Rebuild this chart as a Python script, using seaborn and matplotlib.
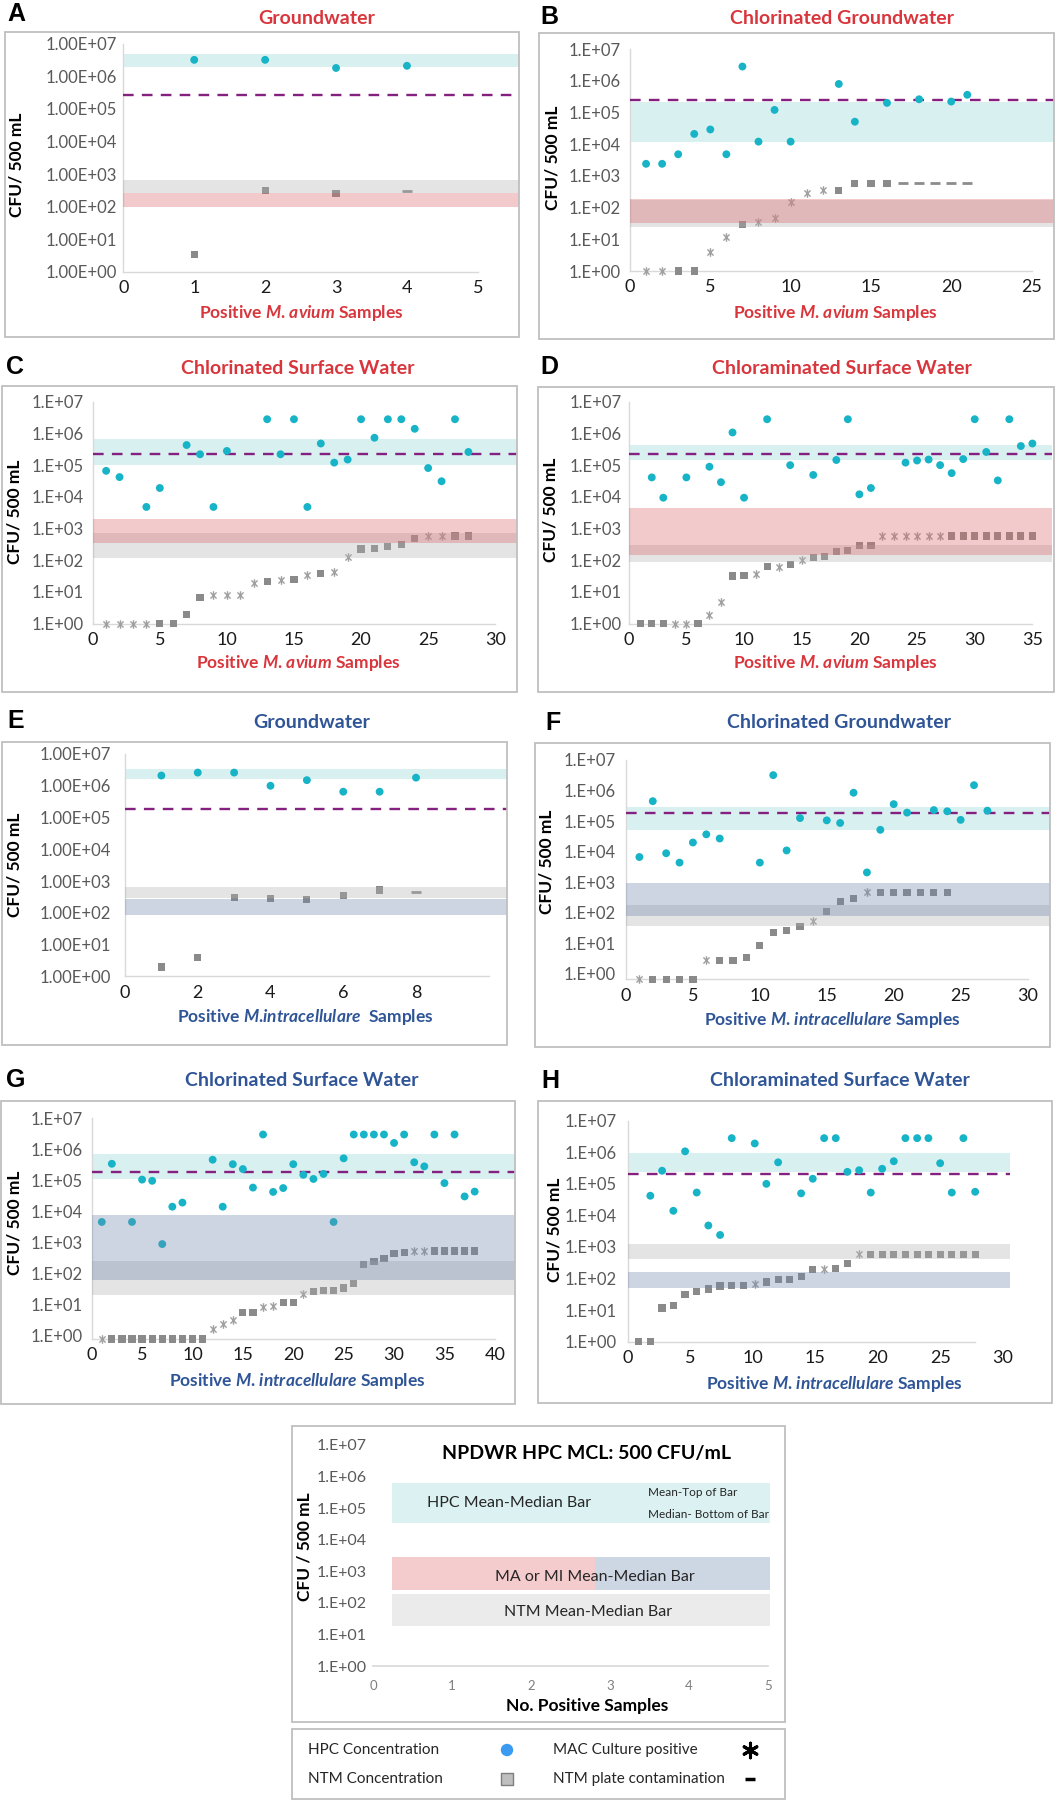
import numpy as np
import pandas as pd
import matplotlib
matplotlib.use("Agg")
import matplotlib.pyplot as plt
import seaborn as sns
from matplotlib.path import Path
from matplotlib.patches import Rectangle
from matplotlib.ticker import NullLocator

sns.set_theme(style="white")
plt.rcParams["font.family"] = ["Lato", "DejaVu Sans"]
plt.rcParams["mathtext.fontset"] = "custom"
plt.rcParams["mathtext.it"] = "Lato:italic:bold"
plt.rcParams["mathtext.rm"] = "Lato:bold"

W, H = 1063, 1800
nan = np.nan

# ---- data, CFU / 500 mL (NaN = no HPC value for that sample)
# NTM kinds: s = NTM count, x = MAC culture positive, - = NTM plate contamination
A_hpc = [3.2e6, 3.2e6, 1.8e6, 2.1e6]
A_ntm = [3.4, 310, 257, 310]
A_kind = "sss-"
A_bands = [(1.9e6, 4.8e6), (100, 257), (257, 660)]   # HPC, M. avium, NTM
A_mcl = 2.6e5

B_hpc = [2.4e3, 2.4e3, 4.8e3, 2.1e4, 2.9e4, 4.8e3, 2.8e6, 1.2e4, 1.2e5, 1.2e4,
         nan, nan, 7.9e5, 5.1e4, nan, 2.0e5, nan, 2.6e5, nan, 2.2e5, 3.6e5]
B_ntm = [1, 1, 1, 1, 3.9, 11.7, 30, 36, 48, 148, 280, 350, 350, 580, 580, 580,
         580, 580, 580, 580, 580]
B_kind = "xxssxxsxxxxxssss-----"
B_bands = [(1.2e4, 2.2e5), (33, 190), (25, 175)]
B_mcl = 2.4e5

C_hpc = [6.6e4, 4.2e4, nan, 4.8e3, 1.9e4, nan, 4.3e5, 2.2e5, 4.8e3, 2.8e5,
         nan, nan, 2.8e6, 2.2e5, 2.8e6, 4.8e3, 4.8e5, 1.2e5, 1.5e5, 2.8e6,
         7.3e5, 2.8e6, 2.8e6, 1.4e6, 8.1e4, 3.1e4, 2.8e6, 2.6e5]
C_ntm = [1, 1, 1, 1, 1, 1, 1.95, 6.7, 8, 8, 8, 19.5, 21, 24, 25, 34, 38, 43,
         123, 225, 240, 267, 316, 490, 580, 580, 580, 580]
C_kind = "xxxxssssxxxxsxsxsxxsssssxxss"
C_bands = [(1e5, 6.6e5), (340, 2000), (115, 740)]
C_mcl = 2.3e5

D_hpc = [nan, 4.1e4, 9.4e3, nan, 4.1e4, nan, 8.9e4, 2.9e4, 1.07e6, 9.4e3,
         nan, 2.8e6, nan, 1.0e5, nan, 4.9e4, nan, 1.45e5, 2.8e6, 1.2e4,
         1.9e4, nan, nan, 1.2e5, 1.4e5, 1.5e5, 1.0e5, 5.6e4, 1.55e5, 2.8e6,
         2.6e5, 3.3e4, 2.8e6, 4.0e5, 4.8e5]
D_ntm = [1, 1, 1, 1, 1, 1, 1.95, 4.9, 32, 34, 37, 62, 62, 75, 101, 120, 132,
         190, 200, 290, 290, 580, 580, 580, 580, 580, 580, 580, 580, 580, 580,
         580, 580, 580, 580]
D_kind = "sssxxsxxssxsxsxssssssxxxxxxssssssss"
D_bands = [(1.4e5, 4.3e5), (145, 4600), (89, 300)]
D_mcl = 2.3e5

E_hpc = [2.1e6, 2.6e6, 2.6e6, 1.0e6, 1.5e6, 6.5e5, 6.5e5, 1.8e6]
E_ntm = [1.96, 4.0, 295, 282, 265, 345, 525, 445]
E_kind = "sssssss-"
E_bands = [(1.6e6, 3.4e6), (83, 275), (300, 630)]   # HPC, M. intracellulare, NTM
E_mcl = 1.8e5

F_hpc = [6.7e3, 4.5e5, 8.9e3, 4.4e3, 2.0e4, 3.7e4, 2.7e4, nan, nan, 4.4e3,
         3.2e6, 1.1e4, 1.26e5, nan, 1.06e5, 8.7e4, 8.5e5, 2.1e3, 5.2e4, 3.6e5,
         1.9e5, nan, 2.3e5, 2.1e5, 1.1e5, 1.5e6, 2.2e5]
F_ntm = [0.67, 0.67, 0.67, 0.67, 0.67, 2.9, 2.8, 2.8, 3.5, 8.5, 23, 27, 35, 56,
         112, 233, 290, 490, 470, 470, 470, 470, 470, 470]
F_kind = "xssssxsssssssxsssxssssss"
F_bands = [(5.3e4, 2.8e5), (81, 950), (37, 180)]
F_mcl = 1.8e5

G_hpc = [4.5e3, 3.4e5, nan, 4.5e3, 1.05e5, 9.6e4, 870, 1.4e4, 1.9e4, nan,
         nan, 4.6e5, 1.4e4, 3.3e5, 2.3e5, 5.8e4, 3.0e6, 4.2e4, 5.6e4, 3.3e5,
         1.5e5, 1.1e5, 1.6e5, 4.5e3, 5.1e5, 3.0e6, 3.0e6, 3.0e6, 3.0e6, 1.6e6,
         3.0e6, 3.8e5, 2.8e5, 3.0e6, 8.1e4, 3.0e6, 3.0e4, 4.3e4]
G_ntm = [0.75, 0.75, 0.75, 0.75, 0.75, 0.75, 0.75, 0.75, 0.75, 0.75, 0.75,
         1.6, 2.3, 3.1, 5.5, 5.5, 8.1, 8.9, 11.2, 11.2, 21, 25, 27, 28, 33, 46,
         194, 236, 290, 430, 470, 520, 520, 520, 520, 520, 520, 520]
G_kind = "xssssssssssxxxssxxssxssssssssssxxsssss"
G_bands = [(1.1e5, 7.1e5), (60, 7800), (19.5, 250)]
G_mcl = 1.9e5

H_pos = [0.88, 1.81, 2.75, 3.65, 4.59, 5.52, 6.45, 7.39, 8.32, 9.25, 10.16,
         11.09, 12.03, 12.96, 13.87, 14.80, 15.71, 16.64, 17.57, 18.51, 19.44,
         20.35, 21.28, 22.21, 23.15, 24.05, 24.99, 25.92, 26.85, 27.79]
H_hpc = [nan, 4.2e4, 2.6e5, 1.4e4, 1.07e6, 5.3e4, 4.8e3, 2.4e3, 2.8e6, nan,
         1.9e6, 1.0e5, 4.8e5, nan, 5.0e4, 1.45e5, 2.8e6, 2.8e6, 2.4e5, 2.7e5,
         5.3e4, 3.0e5, 5.2e5, 2.8e6, 2.8e6, 2.8e6, 4.5e5, 5.3e4, 2.8e6, 5.6e4]
H_ntm = [1, 1, 11.7, 13.8, 32, 40, 47, 58, 62, 62, 69, 78, 94, 96, 117, 195,
         205, 210, 295, 590, 590, 590, 590, 590, 590, 590, 590, 590, 590, 590]
H_kind = "ssssssssssxsssssxssxssssssssss"
H_bands = [(2.4e5, 9.4e5), (51, 160), (415, 1200)]
H_mcl = 2.1e5

# key panel (schematic bars)
key_hpc_band = [10 ** 4.53, 10 ** 5.8]
key_mami_band = [10 ** 2.41, 10 ** 3.46]
key_ntm_band = [10 ** 1.27, 10 ** 2.28]

# ---- styles
HPC_C = "#17B3C6"
SQ_C = "#8A8A8A"
X_C = "#A0A0A0"
DASH_C = "#8C8C8C"
MCL_C = "#84207F"
RED = "#D8363C"
BLUE = "#2F5597"
BAND_HPC = "#92D4D7"
BAND_RED = "#DD686A"
BAND_BLUE = "#7087AC"
BAND_GRAY = "#B2B2B2"
FRAME_C = "#BFBFBF"
SPINE_C = "#D9D9D9"

star = Path([(0, -1), (0, 1), (-.72, -.72), (.72, .72), (-.72, .72), (.72, -.72)],
            [Path.MOVETO, Path.LINETO] * 3)

# period kept outside math mode: mathtext pads after punctuation
MA_LABEL = r"Positive $M$. $avium$ Samples"
MI_LABEL_E = r"Positive $M$.$intracellulare$  Samples"
MI_LABEL = r"Positive $M$. $intracellulare$ Samples"

fig = plt.figure(figsize=(W / 100, H / 100), dpi=100)


def px_axes(l, t, r, b):
    return fig.add_axes([l / W, 1 - b / H, (r - l) / W, (b - t) / H])


def px_text(x, y, s, **kw):
    return fig.text(x / W, 1 - y / H, s, **kw)


def frame(l, t, r, b):
    fig.add_artist(Rectangle((l / W, 1 - b / H), (r - l) / W, (b - t) / H,
                             transform=fig.transFigure, fill=False,
                             ec=FRAME_C, lw=1.3, zorder=10))


panels = [
    dict(letter="A", lxy=(7, 14), title="Groundwater", txy=(317, 18), col=RED,
         box=(123.3, 43.7, 519, 272), frame=(5, 32, 519, 337), xmax=5.58, ymin=1,
         xticks=range(0, 6), spine_end=5, fmt="1.00E+{:02d}", ypad=4.5,
         xlabel=MA_LABEL, xlxy=(301, 313), ylxy=(17, 165),
         hpc=A_hpc, ntm=A_ntm, kind=A_kind, bands=A_bands, mcl=A_mcl),
    dict(letter="B", lxy=(540, 17), title="Chlorinated Groundwater", txy=(842, 18), col=RED,
         box=(630, 49, 1054, 271), frame=(539, 33, 1054, 339), xmax=26.4, ymin=1,
         xticks=range(0, 26, 5), spine_end=25, fmt="1.E+{:02d}", ypad=6.5,
         xlabel=MA_LABEL, xlxy=(835, 313), ylxy=(553, 158),
         hpc=B_hpc, ntm=B_ntm, kind=B_kind, bands=B_bands, mcl=B_mcl),
    dict(letter="C", lxy=(6, 367), title="Chlorinated Surface Water", txy=(298, 368), col=RED,
         box=(92.7, 401.7, 516.7, 623.7), frame=(2, 386, 517, 692), xmax=31.6, ymin=1,
         xticks=range(0, 31, 5), spine_end=30, fmt="1.E+{:02d}", ypad=6.8,
         xlabel=MA_LABEL, xlxy=(298, 663), ylxy=(15, 512),
         hpc=C_hpc, ntm=C_ntm, kind=C_kind, bands=C_bands, mcl=C_mcl),
    dict(letter="D", lxy=(540, 367), title="Chloraminated Surface Water", txy=(842, 368), col=RED,
         box=(628.7, 401.7, 1052, 623.7), frame=(538, 387, 1054, 692), xmax=36.7, ymin=1,
         xticks=range(0, 36, 5), spine_end=35, fmt="1.E+{:02d}", ypad=5.3,
         xlabel=MA_LABEL, xlxy=(835, 663), ylxy=(551, 510),
         hpc=D_hpc, ntm=D_ntm, kind=D_kind, bands=D_bands, mcl=D_mcl),
    dict(letter="E", lxy=(7, 721), title="Groundwater", txy=(312, 722), col=BLUE,
         box=(125, 754, 507.3, 976.3), frame=(2, 742, 507, 1045), xmax=10.51, ymin=1,
         xticks=range(0, 9, 2), spine_end=10, fmt="1.00E+{:02d}", ypad=10,
         xlabel=MI_LABEL_E, xlxy=(305, 1017), ylxy=(15, 865),
         hpc=E_hpc, ntm=E_ntm, kind=E_kind, bands=E_bands, mcl=E_mcl),
    dict(letter="F", lxy=(545, 723), title="Chlorinated Groundwater", txy=(839, 722), col=BLUE,
         box=(626, 760, 1050.3, 979.3), frame=(535, 743, 1050, 1047), xmax=31.7, ymin=0.67,
         xticks=range(0, 31, 5), spine_end=30, fmt="1.E+{:02d}", ypad=7.7,
         xlabel=MI_LABEL, xlxy=(832, 1020), ylxy=(547, 862),
         hpc=F_hpc, ntm=F_ntm, kind=F_kind, bands=F_bands, mcl=F_mcl),
    dict(letter="G", lxy=(6, 1080), title="Chlorinated Surface Water", txy=(302, 1081), col=BLUE,
         box=(91.7, 1118.3, 515, 1339), frame=(1, 1101, 515, 1404), xmax=42.0, ymin=0.75,
         xticks=range(0, 41, 5), spine_end=40, fmt="1.E+{:02d}", ypad=6.5,
         xlabel=MI_LABEL, xlxy=(297, 1381), ylxy=(15, 1223),
         hpc=G_hpc, ntm=G_ntm, kind=G_kind, bands=G_bands, mcl=G_mcl),
    dict(letter="H", lxy=(541, 1081), title="Chloraminated Surface Water", txy=(840, 1081), col=BLUE,
         box=(627.7, 1120.7, 1010.3, 1341.7), frame=(538, 1101, 1052, 1403), xmax=30.6, ymin=1,
         xticks=range(0, 31, 5), spine_end=27.8, fmt="1.E+{:02d}", ypad=7.7,
         xlabel=MI_LABEL, xlxy=(834, 1384), ylxy=(554, 1230),
         hpc=H_hpc, ntm=H_ntm, kind=H_kind, bands=H_bands, mcl=H_mcl, pos=H_pos),
]


def draw_panel(p):
    ax = px_axes(*p["box"])
    ax.set_yscale("log")
    ax.patch.set_alpha(0)
    pos = p.get("pos", list(range(1, max(len(p["hpc"]), len(p["ntm"])) + 1)))

    hpc = pd.DataFrame({"x": pos[:len(p["hpc"])], "cfu": p["hpc"]}).dropna()
    sns.scatterplot(data=hpc, x="x", y="cfu", ax=ax, color=HPC_C, s=32,
                    edgecolor="none", zorder=4, clip_on=False, legend=False)

    ntm = pd.DataFrame({"x": pos[:len(p["ntm"])], "cfu": p["ntm"],
                        "kind": list(p["kind"])})
    sq = ntm[ntm["kind"] == "s"]
    cult = ntm[ntm["kind"] == "x"]
    cont = ntm[ntm["kind"] == "-"]
    if len(sq):
        sns.scatterplot(data=sq, x="x", y="cfu", ax=ax, marker="s", color=SQ_C,
                        s=27, edgecolor="none", zorder=4, clip_on=False, legend=False)
    if len(cult):
        sns.scatterplot(data=cult, x="x", y="cfu", ax=ax, marker=star, color=X_C,
                        edgecolor=X_C, s=38, linewidth=1.0, zorder=4,
                        clip_on=False, legend=False)
    if len(cont):
        sns.scatterplot(data=cont, x="x", y="cfu", ax=ax, marker="_", color=DASH_C,
                        s=60, linewidth=2.0, zorder=4, clip_on=False, legend=False)

    hpc_band, ma_band, ntm_band = p["bands"]
    ma_col = BAND_RED if p["col"] == RED else BAND_BLUE
    ax.axhspan(*hpc_band, color=BAND_HPC, alpha=0.35, lw=0, zorder=1)
    ax.axhspan(*ntm_band, color=BAND_GRAY, alpha=0.35, lw=0, zorder=5)
    ax.axhspan(*ma_band, color=ma_col, alpha=0.35, lw=0, zorder=6)
    ax.axhline(p["mcl"], color=MCL_C, lw=1.7, ls=(0, (4.5, 3.5)), zorder=3)

    ax.set_xlim(0, p["xmax"])
    ax.set_ylim(p["ymin"], 1e7)
    ax.set_xticks(list(p["xticks"]))
    ax.set_xticklabels([str(t) for t in p["xticks"]])
    ax.set_yticks(10.0 ** np.arange(8))
    ax.set_yticklabels([p["fmt"].format(k) for k in range(8)])
    ax.yaxis.set_minor_locator(NullLocator())
    ax.tick_params(length=0)
    ax.tick_params(axis="y", labelsize=12, labelcolor="#595959", pad=p["ypad"])
    ax.tick_params(axis="x", labelsize=13, labelcolor="#1A1A1A", pad=6)
    ax.set_xlabel("")
    ax.set_ylabel("")
    for side in ("top", "right"):
        ax.spines[side].set_visible(False)
    for side in ("left", "bottom"):
        ax.spines[side].set_color(SPINE_C)
        ax.spines[side].set_linewidth(1)
    ax.spines["bottom"].set_bounds(0, p["spine_end"])

    frame(*p["frame"])
    px_text(*p["lxy"], p["letter"], fontsize=18, fontweight="bold",
            family="Liberation Sans", color="black", ha="left", va="center")
    px_text(*p["txy"], p["title"], fontsize=14, fontweight="bold",
            color=p["col"], ha="center", va="center")
    px_text(*p["xlxy"], p["xlabel"], fontsize=12.5, fontweight="bold",
            color=p["col"], ha="center", va="center")
    px_text(*p["ylxy"], "CFU/ 500 mL", fontsize=12.5, fontweight="bold",
            color="black", ha="center", va="center", rotation=90)


for p in panels:
    draw_panel(p)

# ---- explanatory key panel
ax = px_axes(373, 1445, 772, 1666)
ax.set_yscale("log")
ax.patch.set_alpha(0)
ax.fill_between([0.24, 5.03], *key_hpc_band, color="#DBF1F2", lw=0)
ax.fill_between([0.24, 2.81], *key_mami_band, color="#F4CCCD", lw=0)
ax.fill_between([2.81, 5.03], *key_mami_band, color="#CDD6E3", lw=0)
ax.fill_between([0.24, 5.03], *key_ntm_band, color="#EBEBEB", lw=0)
ax.set_xlim(0, 5.05)
ax.set_ylim(1, 1e7)
ax.set_xticks(range(6))
ax.set_yticks(10.0 ** np.arange(8))
ax.set_yticklabels(["1.E+{:02d}".format(k) for k in range(8)])
ax.yaxis.set_minor_locator(NullLocator())
ax.tick_params(length=0)
ax.tick_params(axis="y", labelsize=11.5, labelcolor="#595959", pad=4.5)
ax.tick_params(axis="x", labelsize=9.5, labelcolor="#7F7F7F", pad=10)
for side in ("top", "right", "left"):
    ax.spines[side].set_visible(False)
ax.spines["bottom"].set_color(SPINE_C)
ax.spines["bottom"].set_bounds(0, 5)
frame(292, 1426, 785, 1722)
px_text(587, 1453, "NPDWR HPC MCL: 500 CFU/mL", fontsize=14, fontweight="bold",
        color="black", ha="center", va="center")
px_text(509, 1503, "HPC Mean-Median Bar", fontsize=11.5, color="#262626",
        ha="center", va="center")
px_text(648, 1492, "Mean-Top of Bar", fontsize=8.5, color="#262626",
        ha="left", va="center")
px_text(648, 1515, "Median- Bottom of Bar", fontsize=8.5, color="#262626",
        ha="left", va="center")
px_text(595, 1577, "MA or MI Mean-Median Bar", fontsize=11.5, color="#262626",
        ha="center", va="center")
px_text(588, 1612, "NTM Mean-Median Bar", fontsize=11.5, color="#262626",
        ha="center", va="center")
px_text(587, 1706, "No. Positive Samples", fontsize=12.5, fontweight="bold",
        color="black", ha="center", va="center")
px_text(305, 1547, "CFU / 500 mL", fontsize=12.5, fontweight="bold",
        color="black", ha="center", va="center", rotation=90)

# ---- marker legend
ax = px_axes(292, 1729, 785, 1799)
ax.set_xlim(292, 785)
ax.set_ylim(1799, 1729)
ax.axis("off")
ax.scatter([507], [1750], s=80, color="#3A9BF0", edgecolor="none")
ax.scatter([507], [1779], s=70, marker="s", color="#BFBFBF", edgecolor="#7F7F7F", linewidth=1)
ax.scatter([750], [1750], s=110, marker=(6, 2, 0), color="black", linewidth=2.2)
ax.scatter([750], [1779], s=45, marker="_", color="black", linewidth=2.5)
for (x, y, s) in [(308, 1750, "HPC Concentration"), (308, 1779, "NTM Concentration"),
                  (553, 1750, "MAC Culture positive"), (553, 1779, "NTM plate contamination")]:
    ax.text(x, y, s, fontsize=11, color="#262626", ha="left", va="center")
frame(292, 1729, 785, 1799)

fig.savefig("out.png", dpi=100)
